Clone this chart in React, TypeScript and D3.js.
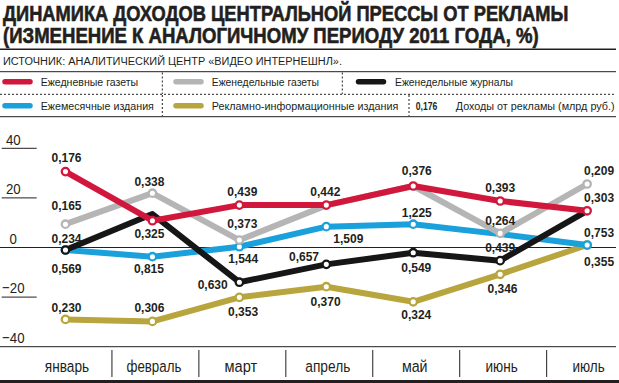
import React, { useLayoutEffect, useRef, useState } from "react";
import * as d3 from "d3";

const title1 = "ДИНАМИКА ДОХОДОВ ЦЕНТРАЛЬНОЙ ПРЕССЫ ОТ РЕКЛАМЫ";
const title2 = "(ИЗМЕНЕНИЕ К АНАЛОГИЧНОМУ ПЕРИОДУ 2011 ГОДА, %)";
const source = "ИСТОЧНИК: АНАЛИТИЧЕСКИЙ ЦЕНТР «ВИДЕО ИНТЕРНЕШНЛ».";

const months = ["январь", "февраль", "март", "апрель", "май", "июнь", "июль"];
const yTicks = [40, 20, 0, -20, -40];

const seriesNames = [
  "Ежедневные газеты",
  "Еженедельные газеты",
  "Еженедельные журналы",
  "Ежемесячные издания",
  "Рекламно-информационные издания",
];
const legendNoteValue = "0,176";
const legendNoteText = "Доходы от рекламы (млрд руб.)";

const daily = [30.6, 10.8, 17.1, 17.1, 24.8, 18.75, 14.8];
const dailyLabels = ["0,176", "0,325", "0,439", "0,442", "0,376", "0,393", "0,303"];
const weeklyNews = [9.4, 21.9, 3.0, 17.0, 24.8, 5.7, 25.6];
const weeklyNewsLabels = ["0,165", "0,338", "0,373", null, null, "0,264", "0,209"];
const weeklyMag = [-1.0, 13.5, -14.0, -6.8, -2.1, -5.3, 14.8];
const weeklyMagLabels = ["0,234", null, "0,630", "0,657", "0,549", "0,439", null];
const monthly = [-1.0, -3.7, 0.3, 8.4, 9.4, 5.4, 1.0];
const monthlyLabels = ["0,569", "0,815", "1,544", "1,509", "1,225", null, "0,753"];
const adInfo = [-29.0, -29.8, -20.1, -15.8, -21.9, -10.8, 1.0];
const adInfoLabels = ["0,230", "0,306", "0,353", "0,370", "0,324", "0,346", "0,355"];

// layout: label offsets [dx, dy] relative to the point
const offDaily = [[1, -9.4], [-3, 17], [3, -9.3], [-1, -9.3], [3.5, -11], [0, -9.3], [12, -8.4]];
const offWeeklyNews = [[1, -14], [-3, -7.5], [3, -11.7], [0, 0], [0, 0], [0, -8.3], [12, -9]];
const offWeeklyMag = [[1, -6.7], [0, 0], [-26.7, 6.7], [-22.3, -3.6], [3, 19], [0, -9], [0, 0]];
const offMonthly = [[1, 23.3], [-3.5, 16.6], [3.8, 16.6], [22, 16.6], [3.5, -7.6], [0, 0], [12, -8.3]];
const offAdInfo = [[1, -7.6], [-3, -9.6], [3.7, 18.7], [-0.7, 19.3], [3, 17.6], [2.3, 18.4], [12, 20.7]];
// layout: rendered widths of month labels
const monthLabelWidths = [44.3, 55, 32.7, 45, 25.7, 32.3, 32.3];

const colors = ["#d2173d", "#b5b5b5", "#161616", "#1aa0da", "#b8a53d"];
const textColor = "#231f20";
const sans = "'Liberation Sans', Arial, sans-serif";

type FitProps = {
  x: number;
  y: number;
  width?: number;
  k?: number;
  anchor?: "start" | "middle" | "end";
  size: number;
  bold?: boolean;
  stroke?: string;
  strokeWidth?: number;
  children: string;
};

function FitText({ x, y, width, k, anchor = "start", size, bold, stroke, strokeWidth, children }: FitProps) {
  const ref = useRef<SVGTextElement>(null);
  const [sx, setSx] = useState(k ?? 1);
  useLayoutEffect(() => {
    if (width !== undefined && ref.current) {
      const w = ref.current.getComputedTextLength();
      if (w > 0) setSx(width / w);
    }
  }, [children, width]);
  return (
    <text
      ref={ref}
      transform={`translate(${x},${y}) scale(${sx},1)`}
      textAnchor={anchor}
      fontFamily={sans}
      fontSize={size}
      fontWeight={bold ? "bold" : "normal"}
      fill={textColor}
      stroke={stroke}
      strokeWidth={strokeWidth}
    >
      {children}
    </text>
  );
}

export default function App() {
  const W = 619;
  const H = 383;
  const x = d3.scaleBand<string>().domain(months).range([25, 633.6]).padding(0);
  const px = (m: string) => (x(m) as number) + x.bandwidth() / 2 - 3;
  const y = d3.scaleLinear().domain([-40, 40]).range([346.7, 148.3]);

  const series = [
    { values: adInfo, labels: adInfoLabels, off: offAdInfo, color: colors[4] },
    { values: monthly, labels: monthlyLabels, off: offMonthly, color: colors[3] },
    { values: weeklyMag, labels: weeklyMagLabels, off: offWeeklyMag, color: colors[2] },
    { values: weeklyNews, labels: weeklyNewsLabels, off: offWeeklyNews, color: colors[1] },
    { values: daily, labels: dailyLabels, off: offDaily, color: colors[0] },
  ];

  const line = d3
    .line<number>()
    .x((_, i) => px(months[i]))
    .y((d) => y(d));

  const legendRows = [
    [
      { name: seriesNames[0], color: colors[0], sx: 5, tx: 40.7, tw: 97.6 },
      { name: seriesNames[1], color: colors[1], sx: 176, tx: 211.7, tw: 107.3 },
      { name: seriesNames[2], color: colors[2], sx: 358.5, tx: 395, tw: 118 },
    ],
    [
      { name: seriesNames[3], color: colors[3], sx: 5, tx: 40.7, tw: 113.3 },
      { name: seriesNames[4], color: colors[4], sx: 176, tx: 211.7, tw: 186.6 },
    ],
  ];
  const rowY = [81.7, 105.7];

  return (
    <svg width={W} height={H} style={{ display: "block" }}>
      <style>{`body{margin:0}`}</style>
      <rect width={W} height={H} fill="#fff" />
      {/* Title */}
      <FitText x={3} y={20.7} width={566} size={21.5} bold stroke={textColor} strokeWidth={0.6}>{title1}</FitText>
      <FitText x={3} y={43.3} width={536} size={21.5} bold stroke={textColor} strokeWidth={0.6}>{title2}</FitText>
      <line x1={0} x2={616} y1={49.2} y2={49.2} stroke={textColor} strokeWidth={1.5} />
      <FitText x={3} y={65} width={339} size={11.3}>{source}</FitText>

      {/* Legend */}
      <line x1={0} x2={616} y1={71.7} y2={71.7} stroke={textColor} strokeWidth={1} />
      <line x1={0} x2={616} y1={94.3} y2={94.3} stroke={textColor} strokeWidth={1} strokeDasharray="2,2" />
      <line x1={0} x2={616} y1={116.7} y2={116.7} stroke={textColor} strokeWidth={1} />
      <line x1={162.3} x2={162.3} y1={72.5} y2={94} stroke={textColor} strokeDasharray="2,2" />
      <line x1={342.3} x2={342.3} y1={72.5} y2={94} stroke={textColor} strokeDasharray="2,2" />
      <line x1={162.3} x2={162.3} y1={95} y2={116} stroke={textColor} strokeDasharray="2,2" />
      <line x1={409} x2={409} y1={95} y2={116} stroke={textColor} strokeDasharray="2,2" />
      {legendRows.map((row, ri) =>
        row.map((it) => (
          <g key={it.name}>
            <line x1={it.sx} x2={it.sx + 25} y1={rowY[ri]} y2={rowY[ri]} stroke={it.color}
              strokeWidth={5.5} strokeLinecap="round" />
            <FitText x={it.tx} y={rowY[ri] + 4.2} width={it.tw} size={11.8}>{it.name}</FitText>
          </g>
        ))
      )}
      <FitText x={415.7} y={rowY[1] + 4.2} width={21.6} size={11.8} bold>{legendNoteValue}</FitText>
      <FitText x={455.7} y={rowY[1] + 4.2} width={159} size={11.8}>{legendNoteText}</FitText>

      {/* Y axis */}
      {yTicks.map((t) => (
        <g key={t}>
          <line x1={t === 0 || t === -40 ? 0 : 1.7} x2={t === 0 || t === -40 ? 616 : 36.7}
            y1={y(t)} y2={y(t)} stroke={textColor} strokeWidth={1} />
          <FitText x={13.3} y={y(t) - 3.8} k={0.86} anchor="middle" size={15.4}>
            {t < 0 ? "\u2212" + Math.abs(t) : String(t)}
          </FitText>
        </g>
      ))}

      {/* X axis */}
      {months.map((m, i) => (
        <g key={m}>
          {i > 0 && (
            <line x1={x(m) as number} x2={x(m) as number} y1={350} y2={377} stroke={textColor} strokeWidth={1} />
          )}
          <FitText x={(x(m) as number) + x.bandwidth() / 2 - 1.5} y={371.5} width={monthLabelWidths[i]}
            anchor="middle" size={17}>{m}</FitText>
        </g>
      ))}
      <rect x={0} y={380} width={W} height={3} fill={textColor} />

      {/* Series */}
      {series.map((s, si) => (
        <g key={si}>
          <path d={line(s.values) as string} fill="none" stroke={s.color} strokeWidth={6}
            strokeLinejoin="round" strokeLinecap="round" />
          {s.values.map((v, i) =>
            s.labels[i] !== null ? (
              <circle key={i} cx={px(months[i])} cy={y(v)} r={3.7} fill="#fff" stroke={s.color} strokeWidth={2.3} />
            ) : null
          )}
        </g>
      ))}
      {series.map((s, si) => (
        <g key={"l" + si}>
          {s.values.map((v, i) =>
            s.labels[i] !== null ? (
              <text key={i} x={px(months[i]) + s.off[i][0]} y={y(v) + s.off[i][1]} textAnchor="middle"
                fontFamily={sans} fontWeight="bold" fontSize={12} fill={textColor}>{s.labels[i]}</text>
            ) : null
          )}
        </g>
      ))}
    </svg>
  );
}
